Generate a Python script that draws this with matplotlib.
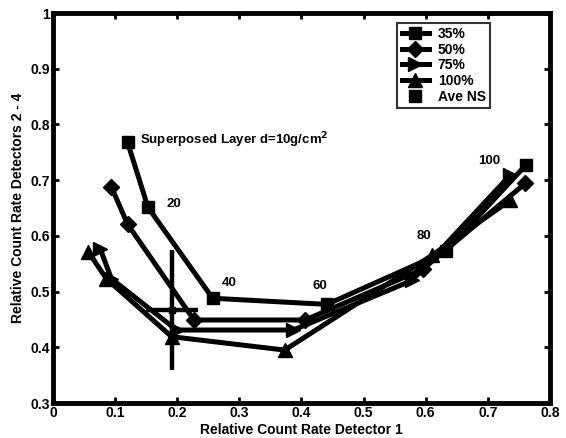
import matplotlib
matplotlib.use("Agg")
import matplotlib.pyplot as plt
from matplotlib.lines import Line2D

plt.rcParams['font.family'] = ['Liberation Sans', 'DejaVu Sans']
plt.rcParams['font.weight'] = 'bold'

# Data
x35 = [0.120, 0.153, 0.257, 0.441, 0.632, 0.762]
y35 = [0.768, 0.651, 0.488, 0.477, 0.572, 0.728]
x50 = [0.094, 0.120, 0.227, 0.406, 0.595, 0.760]
y50 = [0.688, 0.621, 0.449, 0.449, 0.540, 0.694]
x75 = [0.076, 0.094, 0.199, 0.387, 0.578, 0.736]
y75 = [0.577, 0.523, 0.431, 0.431, 0.520, 0.709]
x100 = [0.057, 0.086, 0.191, 0.373, 0.610, 0.736]
y100 = [0.571, 0.523, 0.419, 0.395, 0.565, 0.664]
ave_x, ave_y = 0.191, 0.467
ave_xerr, ave_yerr = 0.042, 0.107

series_labels = ['35%', '50%', '75%', '100%', 'Ave NS']
depth_labels = ['20', '40', '60', '80', '100']
depth_x = [0.182, 0.272, 0.418, 0.586, 0.684]
depth_y = [0.658, 0.515, 0.510, 0.600, 0.734]

fig = plt.figure(figsize=(5.66, 4.38), dpi=100)
ax = fig.add_axes([0.0936, 0.0799, 0.8781, 0.8904])

lw = 3.6
h1, = ax.plot(x35, y35, color='black', lw=lw, marker='s', ms=8)
h2, = ax.plot(x50, y50, color='black', lw=lw, marker='D', ms=8)
h3, = ax.plot(x75, y75, color='black', lw=lw, marker='>', ms=10)
h4, = ax.plot(x100, y100, color='black', lw=lw, marker='^', ms=10)
ax.errorbar([ave_x], [ave_y], xerr=[ave_xerr], yerr=[ave_yerr], fmt='s', color='black',
            ms=5, elinewidth=3.2, capsize=0)
h5 = Line2D([], [], color='black', lw=0, marker='s', ms=8)

for t, xx, yy in zip(depth_labels, depth_x, depth_y):
    ax.text(xx, yy, t, fontsize=9.5, fontweight='bold', ha='left', va='center')
ax.text(0.140, 0.771, 'Superposed Layer d=10g/cm$^{\\mathbf{2}}$', fontsize=9.5,
        fontweight='bold', ha='left', va='center')

ax.set_xlim(0, 0.8)
ax.set_ylim(0.3, 1.0)
ax.set_xticks([0, 0.1, 0.2, 0.3, 0.4, 0.5, 0.6, 0.7, 0.8])
ax.set_xticklabels(['0', '0.1', '0.2', '0.3', '0.4', '0.5', '0.6', '0.7', '0.8'])
ax.set_yticks([0.3, 0.4, 0.5, 0.6, 0.7, 0.8, 0.9, 1.0])
ax.set_yticklabels(['0.3', '0.4', '0.5', '0.6', '0.7', '0.8', '0.9', '1'])
ax.tick_params(direction='in', length=4, width=2, labelsize=10, pad=2,
               top=True, right=True)
for lab in ax.get_xticklabels() + ax.get_yticklabels():
    lab.set_fontweight('bold')
for s in ax.spines.values():
    s.set_linewidth(3.5)

ax.set_xlabel('Relative Count Rate Detector 1', fontsize=10, fontweight='bold', labelpad=2)
ax.set_ylabel('Relative Count Rate Detectors 2 - 4', fontsize=10, fontweight='bold', labelpad=4)

leg = ax.legend([h1, h2, h3, h4, h5], series_labels, loc='upper right',
                bbox_to_anchor=(0.893, 0.993), frameon=True, fancybox=False,
                edgecolor='black', fontsize=10, handlelength=2.0, borderpad=0.3,
                labelspacing=0.12, handletextpad=0.6)
leg.get_frame().set_linewidth(1.5)
for t in leg.get_texts():
    t.set_fontweight('bold')

fig.savefig('out.png', dpi=100)
